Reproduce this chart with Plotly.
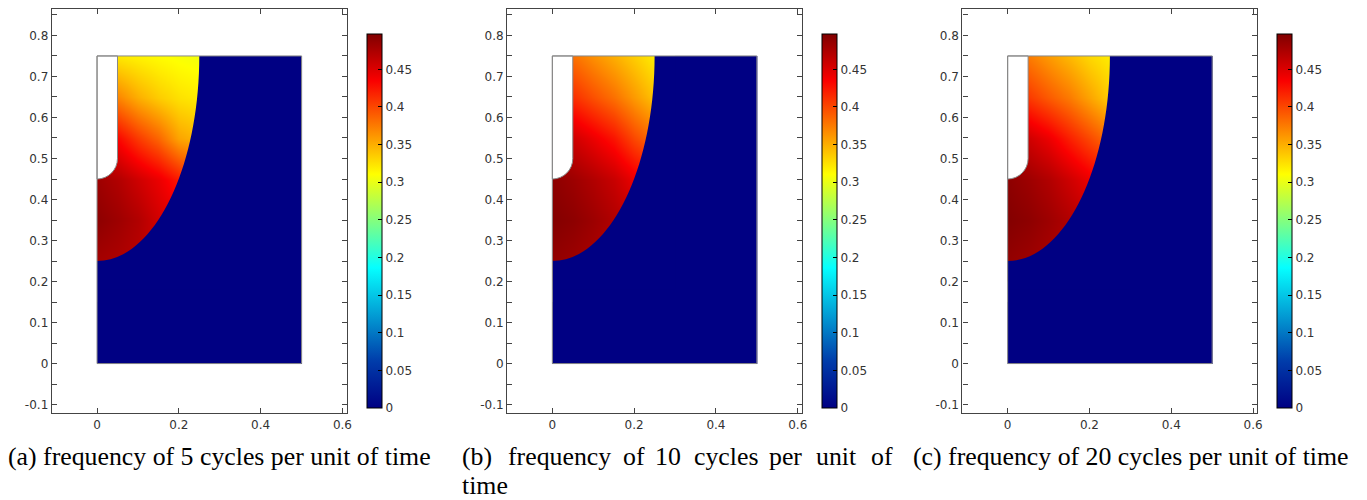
import plotly.graph_objs as go

# grid nodes of the sampled field (inside the melted zone)
x_nodes = [0.0, 0.05, 0.10, 0.15, 0.20, 0.25]
y_nodes = [0.25, 0.35, 0.45, 0.55, 0.65, 0.75]

# values, rows follow y_nodes
field_5 = [
    [0.478, 0.474, 0.468, 0.460, 0.450, 0.440],
    [0.490, 0.482, 0.472, 0.455, 0.445, 0.435],
    [0.482, 0.472, 0.457, 0.442, 0.422, 0.402],
    [0.447, 0.432, 0.407, 0.385, 0.355, 0.345],
    [0.390, 0.370, 0.350, 0.335, 0.325, 0.320],
    [0.330, 0.322, 0.317, 0.312, 0.308, 0.305],
]
field_10 = [
    [0.487, 0.482, 0.476, 0.468, 0.458, 0.448],
    [0.495, 0.490, 0.482, 0.472, 0.462, 0.452],
    [0.490, 0.482, 0.472, 0.460, 0.442, 0.430],
    [0.472, 0.457, 0.442, 0.425, 0.400, 0.380],
    [0.428, 0.412, 0.396, 0.380, 0.360, 0.340],
    [0.390, 0.380, 0.365, 0.350, 0.335, 0.320],
]
field_20 = [
    [0.487, 0.482, 0.476, 0.468, 0.458, 0.448],
    [0.495, 0.490, 0.482, 0.472, 0.462, 0.452],
    [0.490, 0.482, 0.472, 0.457, 0.442, 0.430],
    [0.472, 0.457, 0.442, 0.420, 0.400, 0.380],
    [0.422, 0.407, 0.391, 0.375, 0.355, 0.335],
    [0.390, 0.375, 0.360, 0.345, 0.330, 0.320],
]
fields = [field_5, field_10, field_20]

# geometry of the domain
dom_w, dom_h = 0.5, 0.75
notch_w, notch_r = 0.05, 0.05
notch_y = 0.5          # centre of the rounded notch end
front_a, front_b = 0.25, 0.5   # semi axes of the front, centred at (0, dom_h)

zmax = 0.497
cb_ticks = [0, 0.05, 0.1, 0.15, 0.2, 0.25, 0.3, 0.35, 0.4, 0.45]
y_ticks = [-0.1, 0, 0.1, 0.2, 0.3, 0.4, 0.5, 0.6, 0.7, 0.8]
y_labels = ['-0.1', '0', '0.1', '0.2', '0.3', '0.4', '0.5', '0.6', '0.7', '0.8']
x_ticks = [0, 0.2, 0.4, 0.6]
captions = ['(a) frequency of 5 cycles per unit of time',
            None,
            '(c) frequency of 20 cycles per unit of time']
caption_b_words = ['(b)', 'frequency', 'of', '10', 'cycles', 'per', 'unit', 'of']
caption_b_px = [462, 508, 623, 655, 695, 770, 817, 872]

# the page body adds an 8px margin
OFF = 8
W, H = 1367 - 2 * OFF, 500 - OFF


def px(x):
    return (x - OFF) / W


def py(y):
    return 1 - (y - OFF) / H


jet = [[0, 'rgb(0,0,131)'], [0.125, 'rgb(0,60,170)'], [0.375, 'rgb(5,255,255)'],
       [0.625, 'rgb(255,255,0)'], [0.875, 'rgb(250,0,0)'], [1, 'rgb(128,0,0)']]
navy = 'rgb(0,0,131)'
tickfont = dict(family='DejaVu Sans', size=12, color='#333')
serif = dict(family='Liberation Serif', size=25.8, color='black')

panel_left = [52, 509, 966]
panel_w = 296
cb_left = [368, 825, 1282]

fig = go.Figure()
shapes = []
annotations = []
k = 0.5523
for i in range(3):
    xa = 'x' if i == 0 else 'x%d' % (i + 1)
    ya = 'y' if i == 0 else 'y%d' % (i + 1)
    # cold part of the domain (value 0)
    fig.add_trace(go.Heatmap(x=[0, dom_w], y=[0, dom_h], z=[[0]],
                             colorscale=jet, zmin=0, zmax=zmax, showscale=False,
                             hoverinfo='skip', xaxis=xa, yaxis=ya))
    fig.add_trace(go.Heatmap(
        x=x_nodes, y=y_nodes, z=fields[i], zsmooth='best',
        colorscale=jet, zmin=0, zmax=zmax, xaxis=xa, yaxis=ya,
        colorbar=dict(x=px(cb_left[i]), xanchor='left', xpad=0, ypad=0,
                      thickness=15, len=375 / H, y=py(220.4), yanchor='middle',
                      outlinewidth=1, outlinecolor='black',
                      tickvals=cb_ticks, ticks='inside', ticklen=4,
                      tickcolor='black', tickfont=tickfont)))

    # mask outside the front
    top = dom_h
    bot = dom_h - front_b
    path = ('M 0,%g C %g,%g %g,%g %g,%g L 0.3,%g L 0.3,0.18 L 0,0.18 Z'
            % (bot, k * front_a, bot, front_a, top - k * front_b, front_a, top, top))
    shapes.append(dict(type='path', path=path, xref=xa, yref=ya,
                       fillcolor=navy, line=dict(width=0), layer='above'))
    # white strips where the smoothed image spills past the domain
    shapes.append(dict(type='rect', x0=-0.05, x1=0, y0=0.15, y1=0.85, xref=xa, yref=ya,
                       fillcolor='white', line=dict(width=0)))
    shapes.append(dict(type='rect', x0=-0.05, x1=0.3, y0=dom_h, y1=0.85, xref=xa, yref=ya,
                       fillcolor='white', line=dict(width=0)))
    # notch
    ny0 = notch_y - notch_r
    notch = ('M 0,%g L 0,%g C %g,%g %g,%g %g,%g L %g,%g Z'
             % (dom_h, ny0, k * notch_r, ny0, notch_w, notch_y - k * notch_r,
                notch_w, notch_y, notch_w, dom_h))
    shapes.append(dict(type='path', path=notch, xref=xa, yref=ya,
                       fillcolor='white', line=dict(color='#888', width=1)))
    shapes.append(dict(type='rect', x0=0, x1=dom_w, y0=0, y1=dom_h, xref=xa, yref=ya,
                       fillcolor='rgba(0,0,0,0)', line=dict(color='#888', width=1)))

    axis_common = dict(showline=True, linecolor='#444', linewidth=1.3, mirror='allticks',
                       ticks='inside', ticklen=5, tickwidth=1.2, tickcolor='#444',
                       showgrid=False, zeroline=False, tickfont=tickfont)
    fig.update_layout(**{
        ('xaxis' if i == 0 else 'xaxis%d' % (i + 1)): dict(
            domain=[px(panel_left[i]), px(panel_left[i] + panel_w)],
            range=[-0.1105, 0.6105], tickvals=x_ticks, anchor=ya, **axis_common),
        ('yaxis' if i == 0 else 'yaxis%d' % (i + 1)): dict(
            domain=[py(413), 1], range=[-0.121, 0.8645],
            tickvals=y_ticks, ticktext=y_labels,
            minor=dict(tickvals=[-0.05, 0.05, 0.15, 0.25, 0.35, 0.45, 0.55, 0.65, 0.75, 0.85],
                       ticks='inside', ticklen=5, tickcolor='#444'),
            anchor=xa, **axis_common),
    })

annotations.append(dict(text=captions[0], x=px(220), y=py(456), xref='paper', yref='paper',
                        showarrow=False, font=serif, xanchor='center', yanchor='middle'))
annotations.append(dict(text=captions[2], x=px(1135), y=py(456), xref='paper', yref='paper',
                        showarrow=False, font=serif, xanchor='center', yanchor='middle'))
for word, wx in zip(caption_b_words, caption_b_px):
    annotations.append(dict(text=word, x=px(wx), y=py(456), xref='paper', yref='paper',
                            showarrow=False, font=serif, xanchor='left', yanchor='middle'))
annotations.append(dict(text='time', x=px(462), y=py(485), xref='paper', yref='paper',
                        showarrow=False, font=serif, xanchor='left', yanchor='middle'))

fig.update_layout(width=W, height=H, margin=dict(l=0, r=0, t=0, b=0),
                  paper_bgcolor='white', plot_bgcolor='white',
                  shapes=shapes, annotations=annotations, showlegend=False)
fig.write_html('out.html')
